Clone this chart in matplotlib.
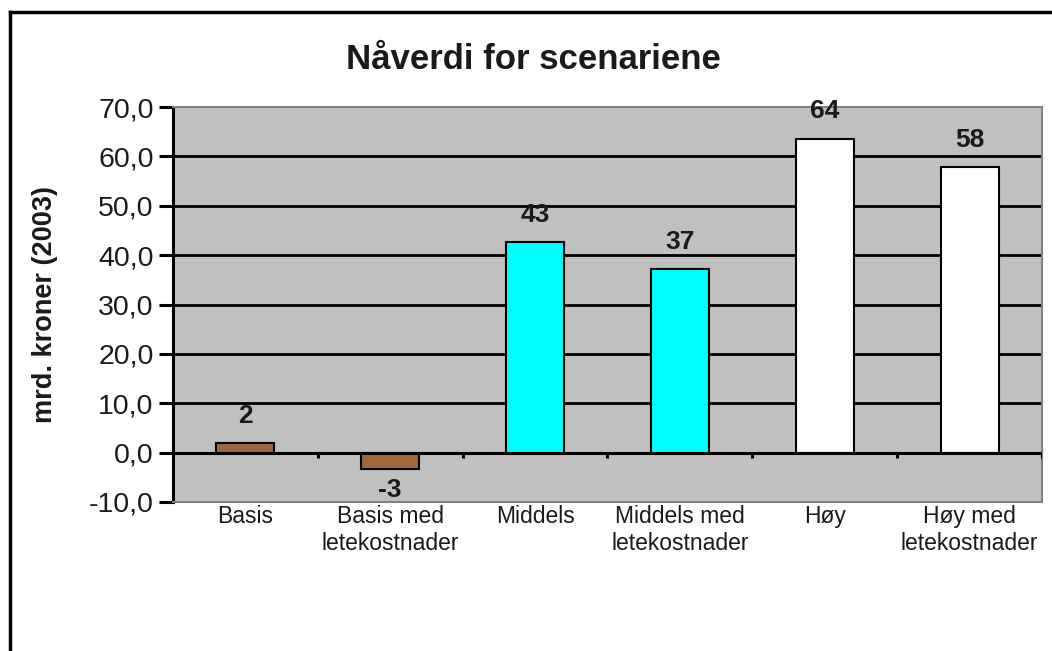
import matplotlib.pyplot as plt
from matplotlib.lines import Line2D

plt.rcParams["font.family"] = ["Liberation Sans", "DejaVu Sans"]

categories = ["Basis", "Basis med\nletekostnader", "Middels",
              "Middels med\nletekostnader", "Høy", "Høy med\nletekostnader"]
values = [1.9, -3.4, 42.7, 37.2, 63.6, 57.8]
bar_colors = ["#A0673F", "#A0673F", "#00FFFF", "#00FFFF", "#FFFFFF", "#FFFFFF"]
yticks = [-10, 0, 10, 20, 30, 40, 50, 60, 70]
ytick_labels = ["-10,0", "0,0", "10,0", "20,0", "30,0", "40,0", "50,0", "60,0", "70,0"]

fig = plt.figure(figsize=(10.52, 6.51), dpi=100)
ax = fig.add_axes([0.1644, 0.2289, 0.8261, 0.6067])

# outer chart frame (left and top edges visible)
fig.add_artist(Line2D([0.0095, 0.0095], [0, 0.9816], transform=fig.transFigure,
                      color="black", lw=2.5))
fig.add_artist(Line2D([0.0095, 1.0], [0.9816, 0.9816], transform=fig.transFigure,
                      color="black", lw=2.5))

ax.set_facecolor("#C0C0C0")
x = list(range(len(categories)))
ax.set_xlim(-0.5, len(categories) - 0.5)
ax.set_ylim(-10, 70)

ax.set_yticks(yticks)
ax.set_yticklabels(ytick_labels, fontsize=20.5, color="#1a1a1a")
ax.tick_params(axis="y", direction="out", length=10, width=2.2, pad=4)
for yt in yticks:
    if yt > -10 and yt != 70:
        ax.axhline(yt, color="black", lw=2, zorder=1)

bars = ax.bar(x, values, width=0.4, color=bar_colors, edgecolor="black",
              linewidth=1.5, zorder=3)

ax.axhline(0, color="black", lw=2.2, zorder=4)
ax.vlines([i + 0.5 for i in range(len(categories))], -1.1, 0, color="black",
          lw=2.2, zorder=4)

for xi, v in zip(x, values):
    if v >= 0:
        ax.annotate(f"{v:.0f}", (xi, v), xytext=(0, 11), textcoords="offset points",
                    ha="center", va="bottom", fontsize=19, fontweight="bold",
                    color="#1a1a1a")
    else:
        ax.annotate(f"{v:.0f}", (xi, v), xytext=(0, -6), textcoords="offset points",
                    ha="center", va="top", fontsize=19, fontweight="bold",
                    color="#1a1a1a")

ax.set_xticks(x)
ax.set_xticklabels(categories, fontsize=16.5, color="#1a1a1a", linespacing=1.25)
ax.tick_params(axis="x", length=0, pad=2)

for side in ["top", "right", "bottom"]:
    ax.spines[side].set_color("#808080")
    ax.spines[side].set_linewidth(1.5)
ax.spines["left"].set_color("black")
ax.spines["left"].set_linewidth(2.2)

ax.set_ylabel("mrd. kroner (2003)", fontsize=19.5, fontweight="bold",
              color="#1a1a1a", labelpad=22)
fig.text(0.507, 0.908, "Nåverdi for scenariene", ha="center", va="center",
         fontsize=25, fontweight="bold", color="#1a1a1a")

fig.savefig("out.png", dpi=100)
